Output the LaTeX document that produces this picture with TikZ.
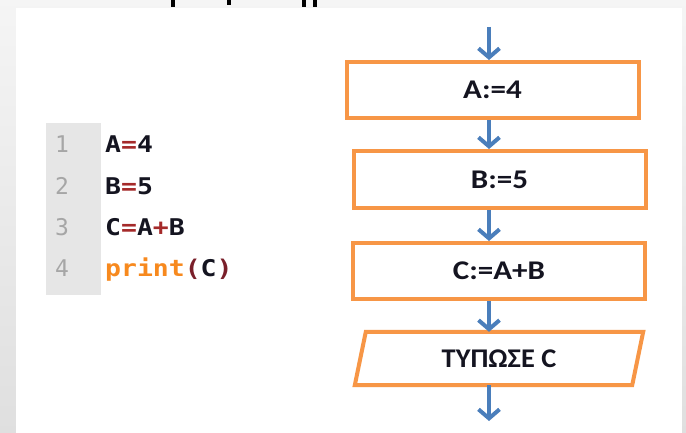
\documentclass[tikz,border=0pt]{standalone}
\usepackage{graphicx}
\usepackage{fontspec}
\setmainfont{Carlito}
\newfontfamily\codefont{DejaVu Sans Mono}
\usetikzlibrary{arrows.meta}
\definecolor{borange}{HTML}{F79646}
\definecolor{fblue}{HTML}{4A7EBB}
\definecolor{gut}{HTML}{E6E6E6}
\definecolor{lnum}{HTML}{A6A6A6}
\definecolor{kred}{HTML}{A52A2A}
\definecolor{kor}{HTML}{F7891E}
\definecolor{kpar}{HTML}{7A1F2A}
\definecolor{ink}{HTML}{141420}
\begin{document}
\begin{tikzpicture}[x=1pt,y=-1pt,
  flowbox/.style={draw=borange,line width=4pt,minimum width=292pt,minimum height=56pt,inner sep=0pt,
    font=\fontsize{27}{30}\selectfont\bfseries,text=ink},
  paranode/.style={minimum width=288pt,minimum height=53pt,inner sep=0pt,
    font=\fontsize{27}{30}\selectfont\bfseries,text=ink},
  paraedge/.style={draw=borange,line width=4pt,line join=miter},
  flowarrow/.style={draw=fblue,line width=4pt,-{Straight Barb[length=9pt,width=21pt]}},
  codeline/.style={anchor=base west,inner sep=0pt,text=ink,font=\codefont\bfseries\fontsize{23}{26}\selectfont},
  numline/.style={anchor=base,inner sep=0pt,text=lnum,font=\codefont\fontsize{23}{26}\selectfont}]
\useasboundingbox (0,0) rectangle (686,433);
\shade[top color=gray!8,bottom color=gray!25] (0,0) rectangle (686,433);
\fill[white] (16,8) rectangle (682,433);
% cut-off glyph fragments at the top edge
\fill[black] (171,0) rectangle (175,7);
\fill[black] (227,0) rectangle (231,5);
\fill[black] (302,0) rectangle (306,7);
\fill[black] (313,0) rectangle (317,7);

% code listing
\fill[gut] (46,123) rectangle (101,295);
\node[numline] (n1) at (62,152.7) {1};
\node[numline] (n2) at (62,194.5) {2};
\node[numline] (n3) at (62,235.5) {3};
\node[numline] (n4) at (62,276.7) {4};
\node[codeline] (c1) at (105,152.7) {\scalebox{1.15}[1]{A\textcolor{kred}{=}4}};
\node[codeline] (c2) at (105,194.5) {\scalebox{1.15}[1]{B\textcolor{kred}{=}5}};
\node[codeline] (c3) at (105,235.5) {\scalebox{1.15}[1]{C\textcolor{kred}{=}A\textcolor{kred}{+}B}};
\node[codeline] (c4) at (105,276.7) {\scalebox{1.15}[1]{\textcolor{kor}{print}\textcolor{kpar}{(}C\textcolor{kpar}{)}}};

% flowchart
\node[flowbox] (b1) at (492.5,90) {\scalebox{1.15}[1]{A:=4}};
\node[flowbox,minimum height=57pt] (b2) at (499.5,179.5) {\scalebox{1.15}[1]{B:=5}};
\node[flowbox] (b3) at (499,271) {\scalebox{1.15}[1]{C:=A+B}};
\node[paranode] (p) at (499,358.5) {\scalebox{1.05}[1]{ΤΥΠΩΣΕ C}};
\draw[paraedge] ([xshift=11pt]p.north west) -- (p.north east) -- ([xshift=-11pt]p.south east) -- (p.south west) -- cycle;

\coordinate (ax) at (489,0);
\coordinate (start) at (489,27);
\coordinate (finish) at (489,421);
\draw[flowarrow] (start) -- (b1.north -| ax);
\draw[flowarrow] (b1.south -| ax) -- (b2.north -| ax);
\draw[flowarrow] (b2.south -| ax) -- (b3.north -| ax);
\draw[flowarrow] (b3.south -| ax) -- (p.north -| ax);
\draw[flowarrow] (p.south -| ax) -- (finish);
\end{tikzpicture}
\end{document}
